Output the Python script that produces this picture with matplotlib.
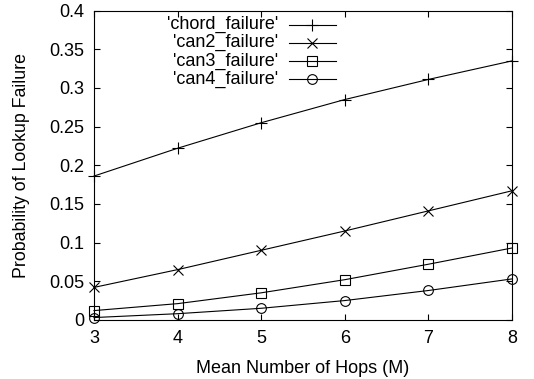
import matplotlib
matplotlib.use('Agg')
import matplotlib.pyplot as plt

# data
hops = [3, 4, 5, 6, 7, 8]
chord_failure = [0.186, 0.222, 0.255, 0.285, 0.311, 0.335]
can2_failure = [0.042, 0.065, 0.090, 0.115, 0.141, 0.167]
can3_failure = [0.012, 0.021, 0.035, 0.052, 0.072, 0.093]
can4_failure = [0.003, 0.008, 0.015, 0.025, 0.038, 0.053]

labels = ["'chord_failure'", "'can2_failure'", "'can3_failure'", "'can4_failure'"]
series = [chord_failure, can2_failure, can3_failure, can4_failure]
markers = [('+', 9), ('x', 7), ('s', 7), ('o', 7)]

plt.rcParams['font.family'] = ['Liberation Sans', 'DejaVu Sans']

fig = plt.figure(figsize=(5.34, 3.79), dpi=100)
ax = fig.add_axes([0.176, 0.156, 0.783, 0.816])

for vals, (m, ms) in zip(series, markers):
    ax.plot(hops, vals, color='black', linewidth=0.8, marker=m, markersize=ms,
            markerfacecolor='none', markeredgecolor='black', markeredgewidth=0.8,
            clip_on=False)

ax.set_xlim(3, 8)
ax.set_ylim(0, 0.4)
ax.set_xticks(hops)
ax.set_yticks([0, 0.05, 0.1, 0.15, 0.2, 0.25, 0.3, 0.35, 0.4])
ax.set_yticklabels(['0', '0.05', '0.1', '0.15', '0.2', '0.25', '0.3', '0.35', '0.4'])
ax.tick_params(direction='in', length=4.5, width=0.8, top=True, right=True,
               labelsize=13, pad=7)
for sp in ax.spines.values():
    sp.set_linewidth(0.8)

ax.set_xlabel('Mean Number of Hops (M)', fontsize=13, labelpad=10)
ax.set_ylabel('Probability of Lookup Failure', fontsize=12.8, labelpad=14)

# gnuplot style key: right aligned text, sample line to its right
for i, (lab, (m, ms)) in enumerate(zip(labels, markers)):
    yy = 0.955 - i * 0.059
    ax.text(0.44, yy, lab, transform=ax.transAxes, ha='right', va='center',
            fontsize=13)
    ax.plot([0.466, 0.578], [yy, yy], transform=ax.transAxes, color='black',
            linewidth=0.8, clip_on=False)
    ax.plot([0.522], [yy], transform=ax.transAxes, marker=m, markersize=ms,
            markerfacecolor='none', markeredgecolor='black', markeredgewidth=0.8,
            linestyle='none', clip_on=False)

fig.savefig('out.png', dpi=100)
